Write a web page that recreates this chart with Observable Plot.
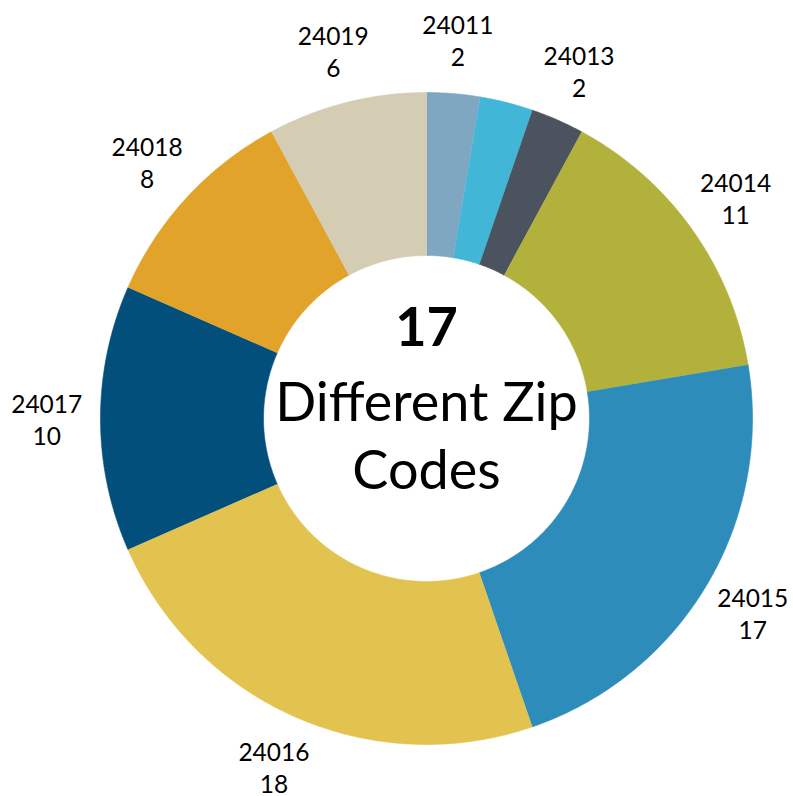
<!DOCTYPE html>
<html>
<head>
<meta charset="utf-8">
<script src="https://cdn.jsdelivr.net/npm/d3@7"></script>
<script src="https://cdn.jsdelivr.net/npm/@observablehq/plot@0.6"></script>
<style>
  html, body { margin: 0; padding: 0; background: #fff; }
  #chart { width: 793px; height: 796px; }
</style>
</head>
<body>
<div id="chart"></div>
<script>
// ---- data ----
const zipCodes = ["24011", "24012", "24013", "24014", "24015", "24016", "24017", "24018", "24019"];
const counts   = [2, 2, 2, 11, 17, 18, 10, 8, 6];
const sliceColors = ["#7fa7c1", "#41b6d6", "#4a535e", "#b2b13b", "#2d8cba", "#e2c350", "#024f7c", "#e1a32a", "#d4cdb4"];
const hiddenLabels = ["24012"];
const centerLines = ["17", "Different Zip", "Codes"];

// ---- layout ----
const W = 793, H = 796;
const cx = 426, cy = 418, R = 326;   // pixel centre and outer radius
const innerFrac = 0.5;
const labelFrac = 1.165;

const slices = zipCodes.map((z, i) => ({zip: z, count: counts[i], color: sliceColors[i]}));
const pie = d3.pie().value(d => d.count).sort(null)(slices);

// polygon points for each ring slice (unit radius coordinates, y up)
const pts = [];
for (const p of pie) {
  const a0 = p.startAngle, a1 = p.endAngle;
  const n = Math.max(8, Math.ceil((a1 - a0) / 0.01));
  for (let k = 0; k <= n; k++) {
    const a = a0 + (a1 - a0) * k / n;
    pts.push({zip: p.data.zip, color: p.data.color, x: Math.sin(a), y: Math.cos(a)});
  }
  for (let k = n; k >= 0; k--) {
    const a = a0 + (a1 - a0) * k / n;
    pts.push({zip: p.data.zip, color: p.data.color, x: innerFrac * Math.sin(a), y: innerFrac * Math.cos(a)});
  }
}

const labels = pie
  .filter(p => !hiddenLabels.includes(p.data.zip))
  .map(p => {
    const a = (p.startAngle + p.endAngle) / 2;
    return {x: labelFrac * Math.sin(a), y: labelFrac * Math.cos(a), text: p.data.zip + "\n" + p.data.count};
  });

const centerOffsets = [-90, -15, 53];
const centerWeights = ["bold", "normal", "normal"];

const chart = Plot.plot({
  width: W,
  height: H,
  margin: 0,
  x: {domain: [-cx / R, (W - cx) / R], axis: null},
  y: {domain: [-(H - cy) / R, cy / R], axis: null},
  color: {type: "identity"},
  style: {fontFamily: "Lato, 'Open Sans', sans-serif", background: "#fff"},
  marks: [
    Plot.line(pts, {x: "x", y: "y", z: "zip", fill: "color", stroke: "color", strokeWidth: 0.6, curve: "linear"}),
    Plot.text(labels, {x: "x", y: "y", text: "text", fontSize: 24.5, lineHeight: 1.31, fill: "#000", textAnchor: "middle", lineAnchor: "middle"}),
    ...centerLines.map((t, i) => Plot.text([t], {
      x: () => 0, y: () => 0, text: d => d, fontSize: 54, fill: "#000",
      fontWeight: centerWeights[i], dy: centerOffsets[i], textAnchor: "middle", lineAnchor: "middle"
    }))
  ]
});
document.getElementById("chart").appendChild(chart);
</script>
</body>
</html>
